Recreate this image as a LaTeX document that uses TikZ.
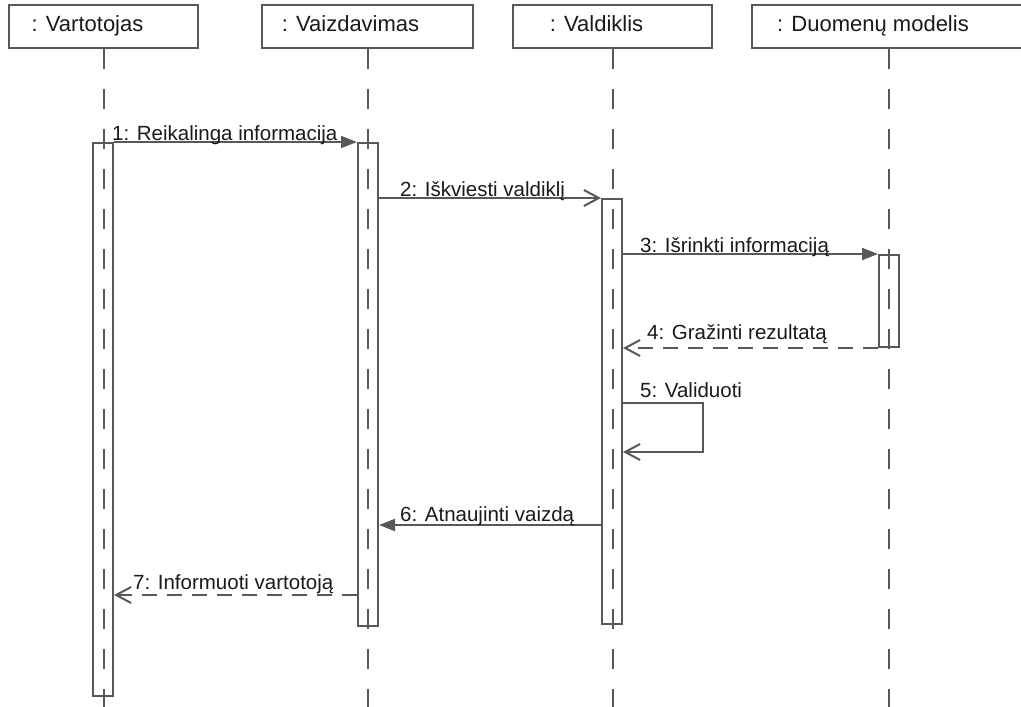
\documentclass[tikz,border=0pt]{standalone}
\usepackage{fontspec}
\setmainfont{Liberation Sans}
\usetikzlibrary{arrows.meta}
\definecolor{ink}{HTML}{585858}
\definecolor{txt}{HTML}{1A1A1A}

\begin{document}
\begin{tikzpicture}[x=1pt,y=-1pt,
  font=\fontsize{20.5}{24}\selectfont,
  head/.style={draw=ink,line width=2pt,minimum height=43pt,inner sep=0pt},
  headtext/.style={anchor=base,inner sep=0pt,text=txt,font=\fontsize{22}{26}\selectfont},
  life/.style={draw=ink,line width=2pt,dash pattern=on 20pt off 20pt},
  act/.style={draw=ink,line width=2pt,minimum width=20pt,inner sep=0pt,anchor=north},
  call/.style={draw=ink,line width=2pt,-{Triangle[length=16pt,width=12pt]}},
  send/.style={draw=ink,line width=2pt,-{Straight Barb[length=15pt,width=16pt]}},
  reply/.style={send,dash pattern=on 15pt off 10pt},
  lbl/.style={anchor=base west,inner sep=0pt,text=txt}]

\clip (0,0) rectangle (1021,707);
\fill[white] (0,0) rectangle (1021,707);
\coordinate (bottom) at (0,707);

% object heads
\node[head,minimum width=189pt] (v) at (103.5,26.5) {};
\node[head,minimum width=211pt] (z) at (367.5,26.5) {};
\node[head,minimum width=199pt] (c) at (612.5,26.5) {};
\node[head,minimum width=274pt] (d) at (889,26.5) {};
\node[headtext] (vt) at (87.5,31.5) {: Vartotojas};
\node[headtext] (zt) at (350.5,31.5) {: Vaizdavimas};
\node[headtext] (ct) at (596.5,31.5) {: Valdiklis};
\node[headtext] (dt) at (873,31.5) {: Duomenų modelis};

% lifelines
\foreach \o in {v,z,c,d}
  \draw[life] (\o.south) -- (\o.south |- bottom);

% activation bars
\node[act,minimum height=553pt] (a1) at (103,142) {};
\node[act,minimum height=483pt] (a2) at (368,142) {};
\node[act,minimum height=425pt] (a3) at (612,198) {};
\node[act,minimum height=92pt]  (a4) at (889,254) {};

% message levels
\coordinate (y5a) at (0,403);
\coordinate (y5b) at (0,452);
\coordinate (y6) at (0,525);
\coordinate (y7) at (0,595);

% messages
\draw[call] (a1.north east) -- (a2.north west);
\draw[send] (a2.east |- a3.north) -- (a3.north west);
\draw[call] (a3.east |- a4.north) -- (a4.north west);
\draw[reply] (a4.south west) -- (a3.east |- a4.south);
\draw[send] (a3.east |- y5a) -- ++(80,0) |- (a3.east |- y5b);
\draw[call] (a3.west |- y6) -- (a2.east |- y6);
\draw[reply] (a2.west |- y7) -- (a1.east |- y7);

% message labels
\node[lbl] (m1) at (112,140) {1: Reikalinga informacija};
\node[lbl] (m2) at (400,196) {2: Iškviesti valdiklį};
\node[lbl] (m3) at (640,252) {3: Išrinkti informaciją};
\node[lbl] (m4) at (647,339) {4: Gražinti rezultatą};
\node[lbl] (m5) at (640,397) {5: Validuoti};
\node[lbl] (m6) at (400,521) {6: Atnaujinti vaizdą};
\node[lbl] (m7) at (133,589) {7: Informuoti vartotoją};
\end{tikzpicture}
\end{document}
